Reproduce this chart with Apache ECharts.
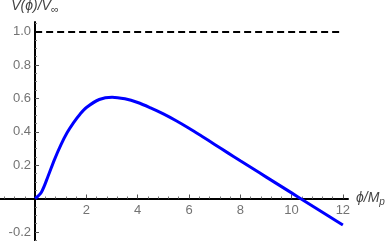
<!DOCTYPE html>
<html><head><meta charset="utf-8">
<script src="https://cdn.jsdelivr.net/npm/echarts@6/dist/echarts.min.js"></script>
<style>html,body{margin:0;padding:0;background:#fff}#c{width:392px;height:241px}</style>
</head><body><div id="c"></div>
<script>
const phi = [0,0.25,0.5,0.75,1,1.25,1.5,1.75,2,2.5,3,3.5,4,4.5,5,5.5,6,6.5,7,7.5,8,8.5,9,9.5,10,10.5,11,11.5,12];
const V = [0,0.04,0.132,0.232,0.32,0.395,0.455,0.505,0.545,0.593,0.607,0.597,0.575,0.543,0.507,0.466,0.421,0.373,0.324,0.275,0.226,0.178,0.130,0.082,0.034,-0.014,-0.062,-0.110,-0.158];
const xMajor = [2,4,6,8,10,12];
const xMinor = [-1.2,-0.8,-0.4,0.4,0.8,1.2,1.6,2.4,2.8,3.2,3.6,4.4,4.8,5.2,5.6,6.4,6.8,7.2,7.6,8.4,8.8,9.2,9.6,10.4,10.8,11.2,11.6];
const yMajor = [-0.2,0.2,0.4,0.6,0.8,1.0];
const yMinor = [-0.25,-0.15,-0.1,-0.05,0.05,0.1,0.15,0.25,0.3,0.35,0.45,0.5,0.55,0.65,0.7,0.75,0.85,0.9,0.95,1.05];
const refLevel = 1.0;

const chart = echarts.init(document.getElementById('c'));
const lbl = {color:'#737373', fontSize:13, fontFamily:'Liberation Sans'};
const xBase = {type:'value', min:-1.37, max:12.2, splitLine:{show:false}, position:'bottom', offset:-42.5};
const yBase = {type:'value', min:-0.254, max:1.057, splitLine:{show:false}, position:'left', offset:-35};
chart.setOption({
  animation:false,
  grid:[{left:0, right:44, top:22, bottom:0, containLabel:false, outerBoundsMode:'none'}],
  xAxis:[
    Object.assign({}, xBase, {
      axisLine:{onZero:false, lineStyle:{color:'#000', width:2}},
      axisTick:{inside:true, length:4, lineStyle:{color:'#555', width:1}, customValues:xMajor},
      axisLabel:Object.assign({customValues:xMajor, margin:5, formatter:v=>String(Math.round(v))}, lbl),
      name:'{i|ϕ/M}{s|p}', nameLocation:'end', nameGap:4,
      nameTextStyle:{rich:{i:{fontStyle:'italic', fontSize:14, color:'#444', fontFamily:'Liberation Sans'}, s:{fontStyle:'italic', fontSize:10, color:'#444', verticalAlign:'bottom', padding:[8,0,0,0], fontFamily:'Liberation Sans'}}}
    }),
    Object.assign({}, xBase, {
      axisLine:{show:false, onZero:false},
      axisTick:{inside:true, length:2, lineStyle:{color:'#777', width:1}, customValues:xMinor},
      axisLabel:{show:false}
    })
  ],
  yAxis:[
    Object.assign({}, yBase, {
      axisLine:{onZero:false, lineStyle:{color:'#000', width:2}},
      axisTick:{inside:true, length:4, lineStyle:{color:'#555', width:1}, customValues:yMajor},
      axisLabel:Object.assign({customValues:yMajor, margin:4, formatter:v=>v.toFixed(1)}, lbl),
      name:'{i|V(ϕ)/V}{s|∞}', nameLocation:'end', nameGap:7,
      nameTextStyle:{align:'center', rich:{i:{fontStyle:'italic', fontSize:14, color:'#444', fontFamily:'Liberation Sans'}, s:{fontSize:11, color:'#444', verticalAlign:'bottom', padding:[6,0,0,0], fontFamily:'Liberation Sans'}}}
    }),
    Object.assign({}, yBase, {
      axisLine:{show:false, onZero:false},
      axisTick:{inside:true, length:2, lineStyle:{color:'#777', width:1}, customValues:yMinor},
      axisLabel:{show:false}
    })
  ],
  series:[{
    type:'line', xAxisIndex:0, yAxisIndex:0, smooth:0.3, showSymbol:false,
    data: phi.map((x,i)=>[x,V[i]]),
    lineStyle:{color:'#0000ff', width:3},
    markLine:{silent:true, symbol:'none', label:{show:false},
      lineStyle:{color:'#000', width:2, type:[7,4]},
      data:[[{coord:[0,refLevel]},{coord:[12,refLevel]}]]}
  }]
});
</script></body></html>
